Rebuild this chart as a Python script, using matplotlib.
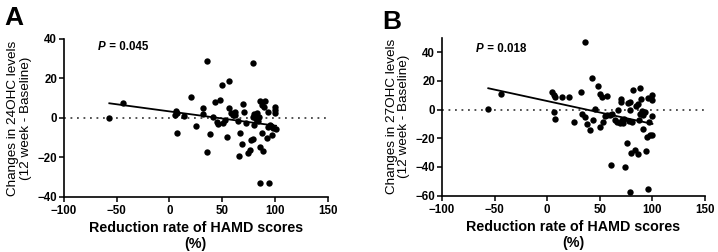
import numpy as np
import matplotlib
matplotlib.use("Agg")
import matplotlib.pyplot as plt

plt.rcParams["font.family"] = ["Liberation Sans", "DejaVu Sans"]

# Panel A: 24OHC change vs HAMD reduction rate
a_x = [-57, -44, 6, 7, 5, 7, 13.5, 20, 25, 32, 32, 36, 36, 38, 41, 43, 45, 46, 48, 50,
       51, 53, 55, 56, 56, 58, 60, 62, 62, 65, 66, 67, 69, 70, 71, 73, 74, 76, 77, 79,
       79, 79, 80, 80, 82, 83, 84, 85, 86, 86, 86, 88, 88, 89, 90, 91, 92, 93, 93, 94,
       95, 96, 97, 98, 100, 100, 100, 101]
a_y = [0, 7.8, 3.7, 2.7, 1.5, -7.8, 1, 10.8, -4, 5, 1.9, 29, -17, -8, 0.7, 8.3, -1.9, -3, 9.2, 16.8,
       -2.7, -1, -9.7, 18.8, 4.9, 2.7, 1.5, 3.2, 1.5, -1.4, -19.3, -7.8, -13.2, 7.1, 3.2, -2.4, -17.5, -16, -11, -10.5,
       27.6, 0.7, -3.6, 1.9, -0.3, 2.4, -1.4, 0.3, 8.5, -14.6, -32.9, 6.6, -7.5, -16.6, 5.4, 8.5, -10.3, -4.7, 3, -32.9,
       -3.4, -4, -8.6, -5, 5.8, 4, 2.4, -5.4]
a_fit = (-0.072, 3.34)  # slope, intercept
a_p = "0.045"

# Panel B: 27OHC change vs HAMD reduction rate
b_x = [-56, -44, 4.4, 6.6, 7.6, 6.6, 7.6, 13.6, 20.6, 25.6, 32, 33, 36, 36, 38, 41, 43, 44, 45, 48,
       50, 50, 52, 53, 55, 57, 57, 60, 61, 62, 64, 66, 67, 69, 70, 70.5, 71, 72, 73, 74,
       76, 77, 77.5, 79, 79, 79, 80, 81, 82, 83, 84, 86, 86, 87, 88, 88, 89, 90, 91, 91,
       93, 94, 95, 96, 96, 97, 98, 100, 100, 100, 100]
b_y = [0.7, 11, 12.3, 10, 8.8, -1.6, -6.3, 8.8, 8.4, -8.4, 12.3, -2.8, 47, -5, -10.2, -14, 22, -7.4, 0.2, 16.3,
       11, -12, 8.8, -8.6, -4.7, 9.3, -4, -4, -38.8, -2.8, -7, -8.8, -0.5, -9.3, 7, 5.3, -7, -9.3, -6.5, -40,
       -23.3, 4.2, -7.9, 5.3, -0.5, -57.7, -30, -8.6, 13.5, -28, 2.3, -30.7, 3.7, -7.4, 14.7, -2.8, 7, -0.9, -13.3, -4,
       -1.6, -28.8, -19, -55, 7.7, -8.6, -18, 10, 6.5, -4.7, -18]
b_fit = (-0.159, 5.9)
b_p = "0.018"

x_ticks = [-100, -50, 0, 50, 100, 150]

fig = plt.figure(figsize=(7.18, 2.52), dpi=100)
ax_a = fig.add_axes([0.0891, 0.2183, 0.3673, 0.627])
ax_b = fig.add_axes([0.6156, 0.2234, 0.3663, 0.627])

panels = [
    (ax_a, a_x, a_y, a_fit, a_p, "24OHC", (-40, 40), [-40, -20, 0, 20, 40], 0.95),
    (ax_b, b_x, b_y, b_fit, b_p, "27OHC", (-60, 50), [-60, -40, -20, 0, 20, 40], 0.93),
]

for ax, xs, ys, fit, p, name, ylim, yticks, p_y in panels:
    ax.axhline(0, color="#444444", linestyle=(0, (1, 2.6)), linewidth=1.3, zorder=1)
    ax.scatter(xs, ys, s=21, color="black", zorder=3, linewidths=0)
    slope, icpt = fit
    xl = np.array([min(xs), max(xs)])
    ax.plot(xl, slope * xl + icpt, color="black", linewidth=1.3, zorder=2)

    ax.set_xlim(-100, 150)
    ax.set_ylim(*ylim)
    ax.set_xticks(x_ticks)
    ax.set_yticks(yticks)
    for s in ["top", "right"]:
        ax.spines[s].set_visible(False)
    for s in ["left", "bottom"]:
        ax.spines[s].set_linewidth(1.2)
    ax.tick_params(direction="out", length=3.5, width=1.1, labelsize=8.3, pad=1.5)
    ax.tick_params(axis="x", pad=2.5)
    for lab in ax.get_xticklabels() + ax.get_yticklabels():
        lab.set_fontweight("bold")

    ax.set_xlabel("Reduction rate of HAMD scores\n(%)", fontsize=10.3, fontweight="bold",
                  linespacing=1.2, labelpad=2.5)
    ax.set_ylabel(f"Changes in {name} levels\n(12 week - Baseline)", fontsize=9.7,
                  linespacing=1.1)
    ax.yaxis.set_label_coords(-0.12, 0.5)

    t = ax.text(0.13, p_y, "P", transform=ax.transAxes, fontsize=8.3,
                fontweight="bold", fontstyle="italic", va="center", ha="left")
    ax.annotate(" = " + p, xy=(1, 0.5), xycoords=t, fontsize=8.3,
                fontweight="bold", va="center", ha="left")

fig.text(4 / 718, 1 - 6 / 252, "A", fontsize=19, fontweight="bold", va="top", ha="left")
fig.text(382 / 718, 1 - 10 / 252, "B", fontsize=19, fontweight="bold", va="top", ha="left")

fig.savefig("out.png", dpi=100)
